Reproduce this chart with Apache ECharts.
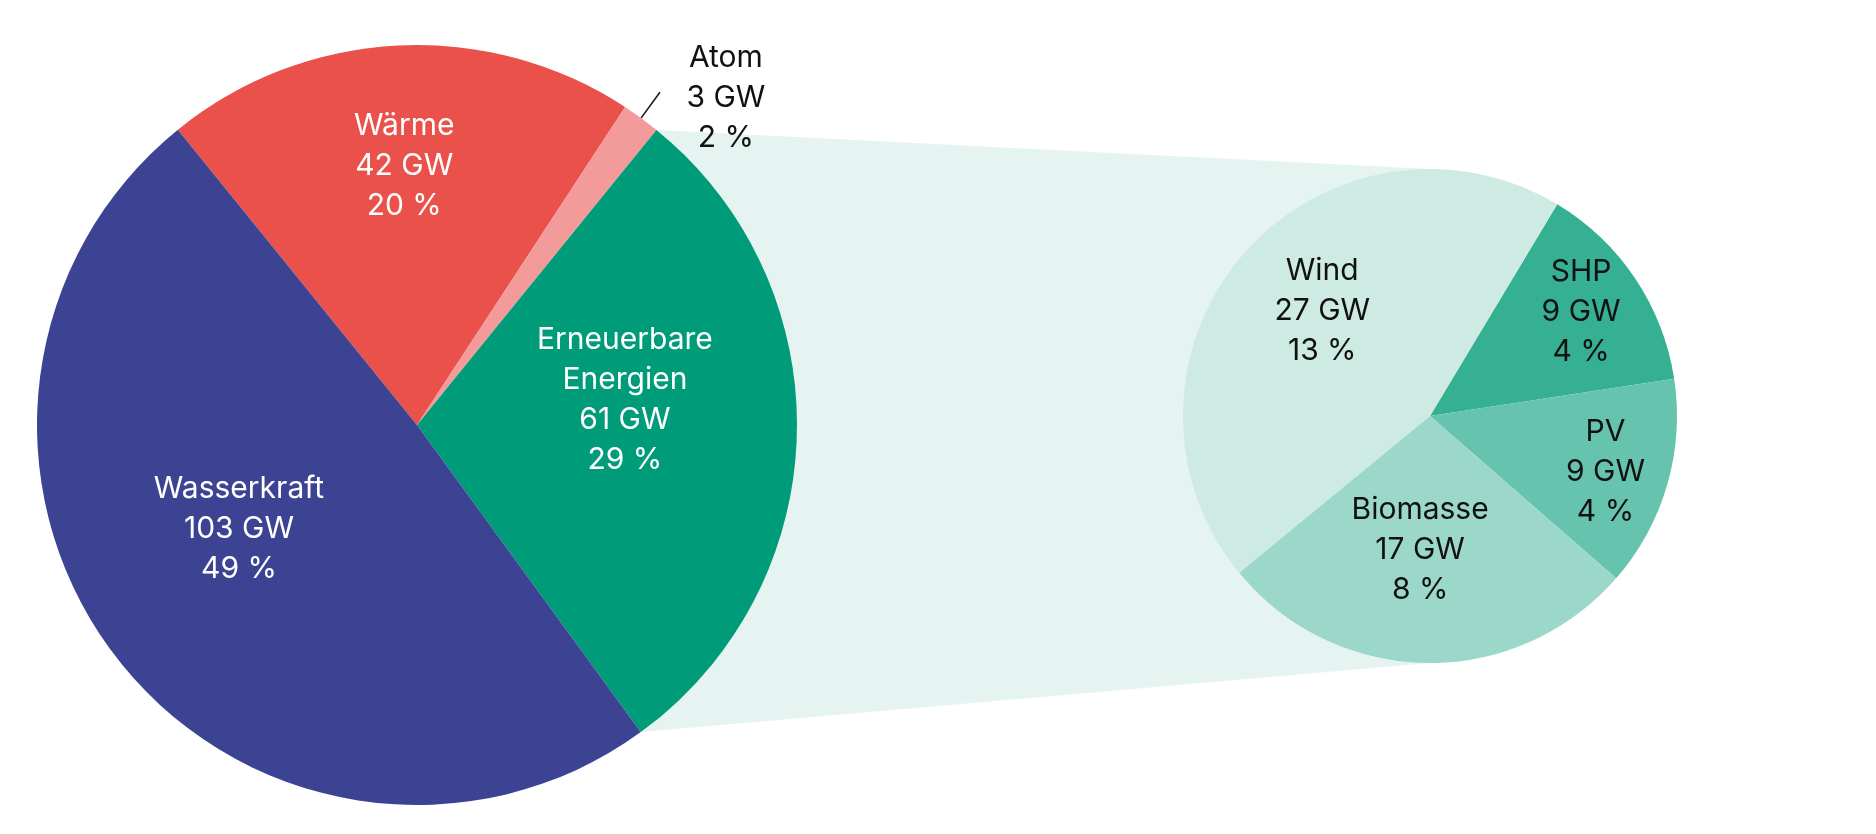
<!DOCTYPE html>
<html><head><meta charset="utf-8">
<script src="https://cdn.jsdelivr.net/npm/echarts@6/dist/echarts.min.js"></script>
<style>html,body{margin:0;padding:0;background:#fff}#c{width:1876px;height:834px}</style>
</head><body><div id="c"></div>
<script>
// ---- data ----
const mainNames = ['Wärme', 'Atom', 'Erneuerbare Energien', 'Wasserkraft'];
const mainValues = [42, 3.4, 61, 103];
const renNames = ['SHP', 'PV', 'Biomasse', 'Wind'];
const renValues = [8.6, 8.5, 17, 27.4];

// ---- styles / layout ----
const mainColors = ['#e9514a', '#f29b9a', '#009b78', '#3d4393'];
const renColors = ['#35b093', '#66c4ae', '#9bd8c9', '#cdeae3'];
const bandColor = '#e5f4f0';
const FONT = 'Inter';
const FS = 30;
const C1 = [417, 425], R1 = 380, S1 = 129;
const C2 = [1430, 416], R2 = 247, S2 = 59;
const mainOffsets = [[-3, -66], [0, 0], [15, -30], [-25, -14]];
const renOffsets = [[46, -34], [54, 21], [-8, 7], [-12, -22]];

const total = mainValues.reduce((a, b) => a + b, 0);
function lines(p) {
  const name = p.name.replace(' ', '\n');
  return name + '\n' + Math.round(p.value) + ' GW\n' + Math.round(p.value / total * 100) + ' %';
}
function richLines(p) {
  return lines(p).split('\n').map(s => '{a|' + s + '}').join('\n');
}

// band geometry derived from data angles
const renIdx = 2;
const before = mainValues.slice(0, renIdx).reduce((a, b) => a + b, 0);
const a1 = (S1 - before / total * 360) * Math.PI / 180;
const a2 = (S1 - (before + mainValues[renIdx]) / total * 360) * Math.PI / 180;
const bandPts = [
  [C1[0] + R1 * Math.cos(a1), C1[1] - R1 * Math.sin(a1)],
  [C2[0], C2[1] - R2],
  [C2[0], C2[1] + R2],
  [C1[0] + R1 * Math.cos(a2), C1[1] - R1 * Math.sin(a2)]
];

const baseLabel = {
  show: true, position: 'inside', formatter: lines,
  fontFamily: FONT, fontSize: FS, lineHeight: 40, color: '#ffffff'
};

const mainData = mainNames.map((n, i) => {
  const d = { name: n, value: mainValues[i], itemStyle: { color: mainColors[i] } };
  if (n === 'Atom') {
    d.label = {
      position: 'outside', color: '#111111', formatter: richLines,
      distanceToLabelLine: 24, padding: [11, 0, 0, 0],
      rich: { a: { width: 84, align: 'center', fontFamily: FONT, fontSize: FS, lineHeight: 40, color: '#111111' } }
    };
    d.labelLine = { show: true, length: 32, length2: 0, lineStyle: { color: '#111111', width: 1.5 } };
  }
  return d;
});
const renData = renNames.map((n, i) => ({ name: n, value: renValues[i], itemStyle: { color: renColors[i] } }));

const chart = echarts.init(document.getElementById('c'), null, { renderer: 'canvas' });
chart.setOption({
  animation: false,
  backgroundColor: '#ffffff',
  graphic: [{
    type: 'polygon', z: 0, silent: true,
    shape: { points: bandPts },
    style: { fill: bandColor }
  }],
  series: [
    {
      type: 'pie', center: C1, radius: R1, startAngle: S1, clockwise: true,
      avoidLabelOverlap: false, silent: true, z: 2,
      label: baseLabel,
      labelLine: { show: false },
      labelLayout: p => { const o = mainOffsets[p.dataIndex]; return (o[0] || o[1]) ? { dx: o[0], dy: o[1] } : {}; },
      emphasis: { disabled: true },
      data: mainData
    },
    {
      type: 'pie', center: C2, radius: R2, startAngle: S2, clockwise: true,
      avoidLabelOverlap: false, silent: true, z: 2,
      label: Object.assign({}, baseLabel, { color: '#111111' }),
      labelLine: { show: false },
      labelLayout: p => { const o = renOffsets[p.dataIndex]; return { dx: o[0], dy: o[1] }; },
      emphasis: { disabled: true },
      data: renData
    }
  ]
});
</script>
</body></html>
